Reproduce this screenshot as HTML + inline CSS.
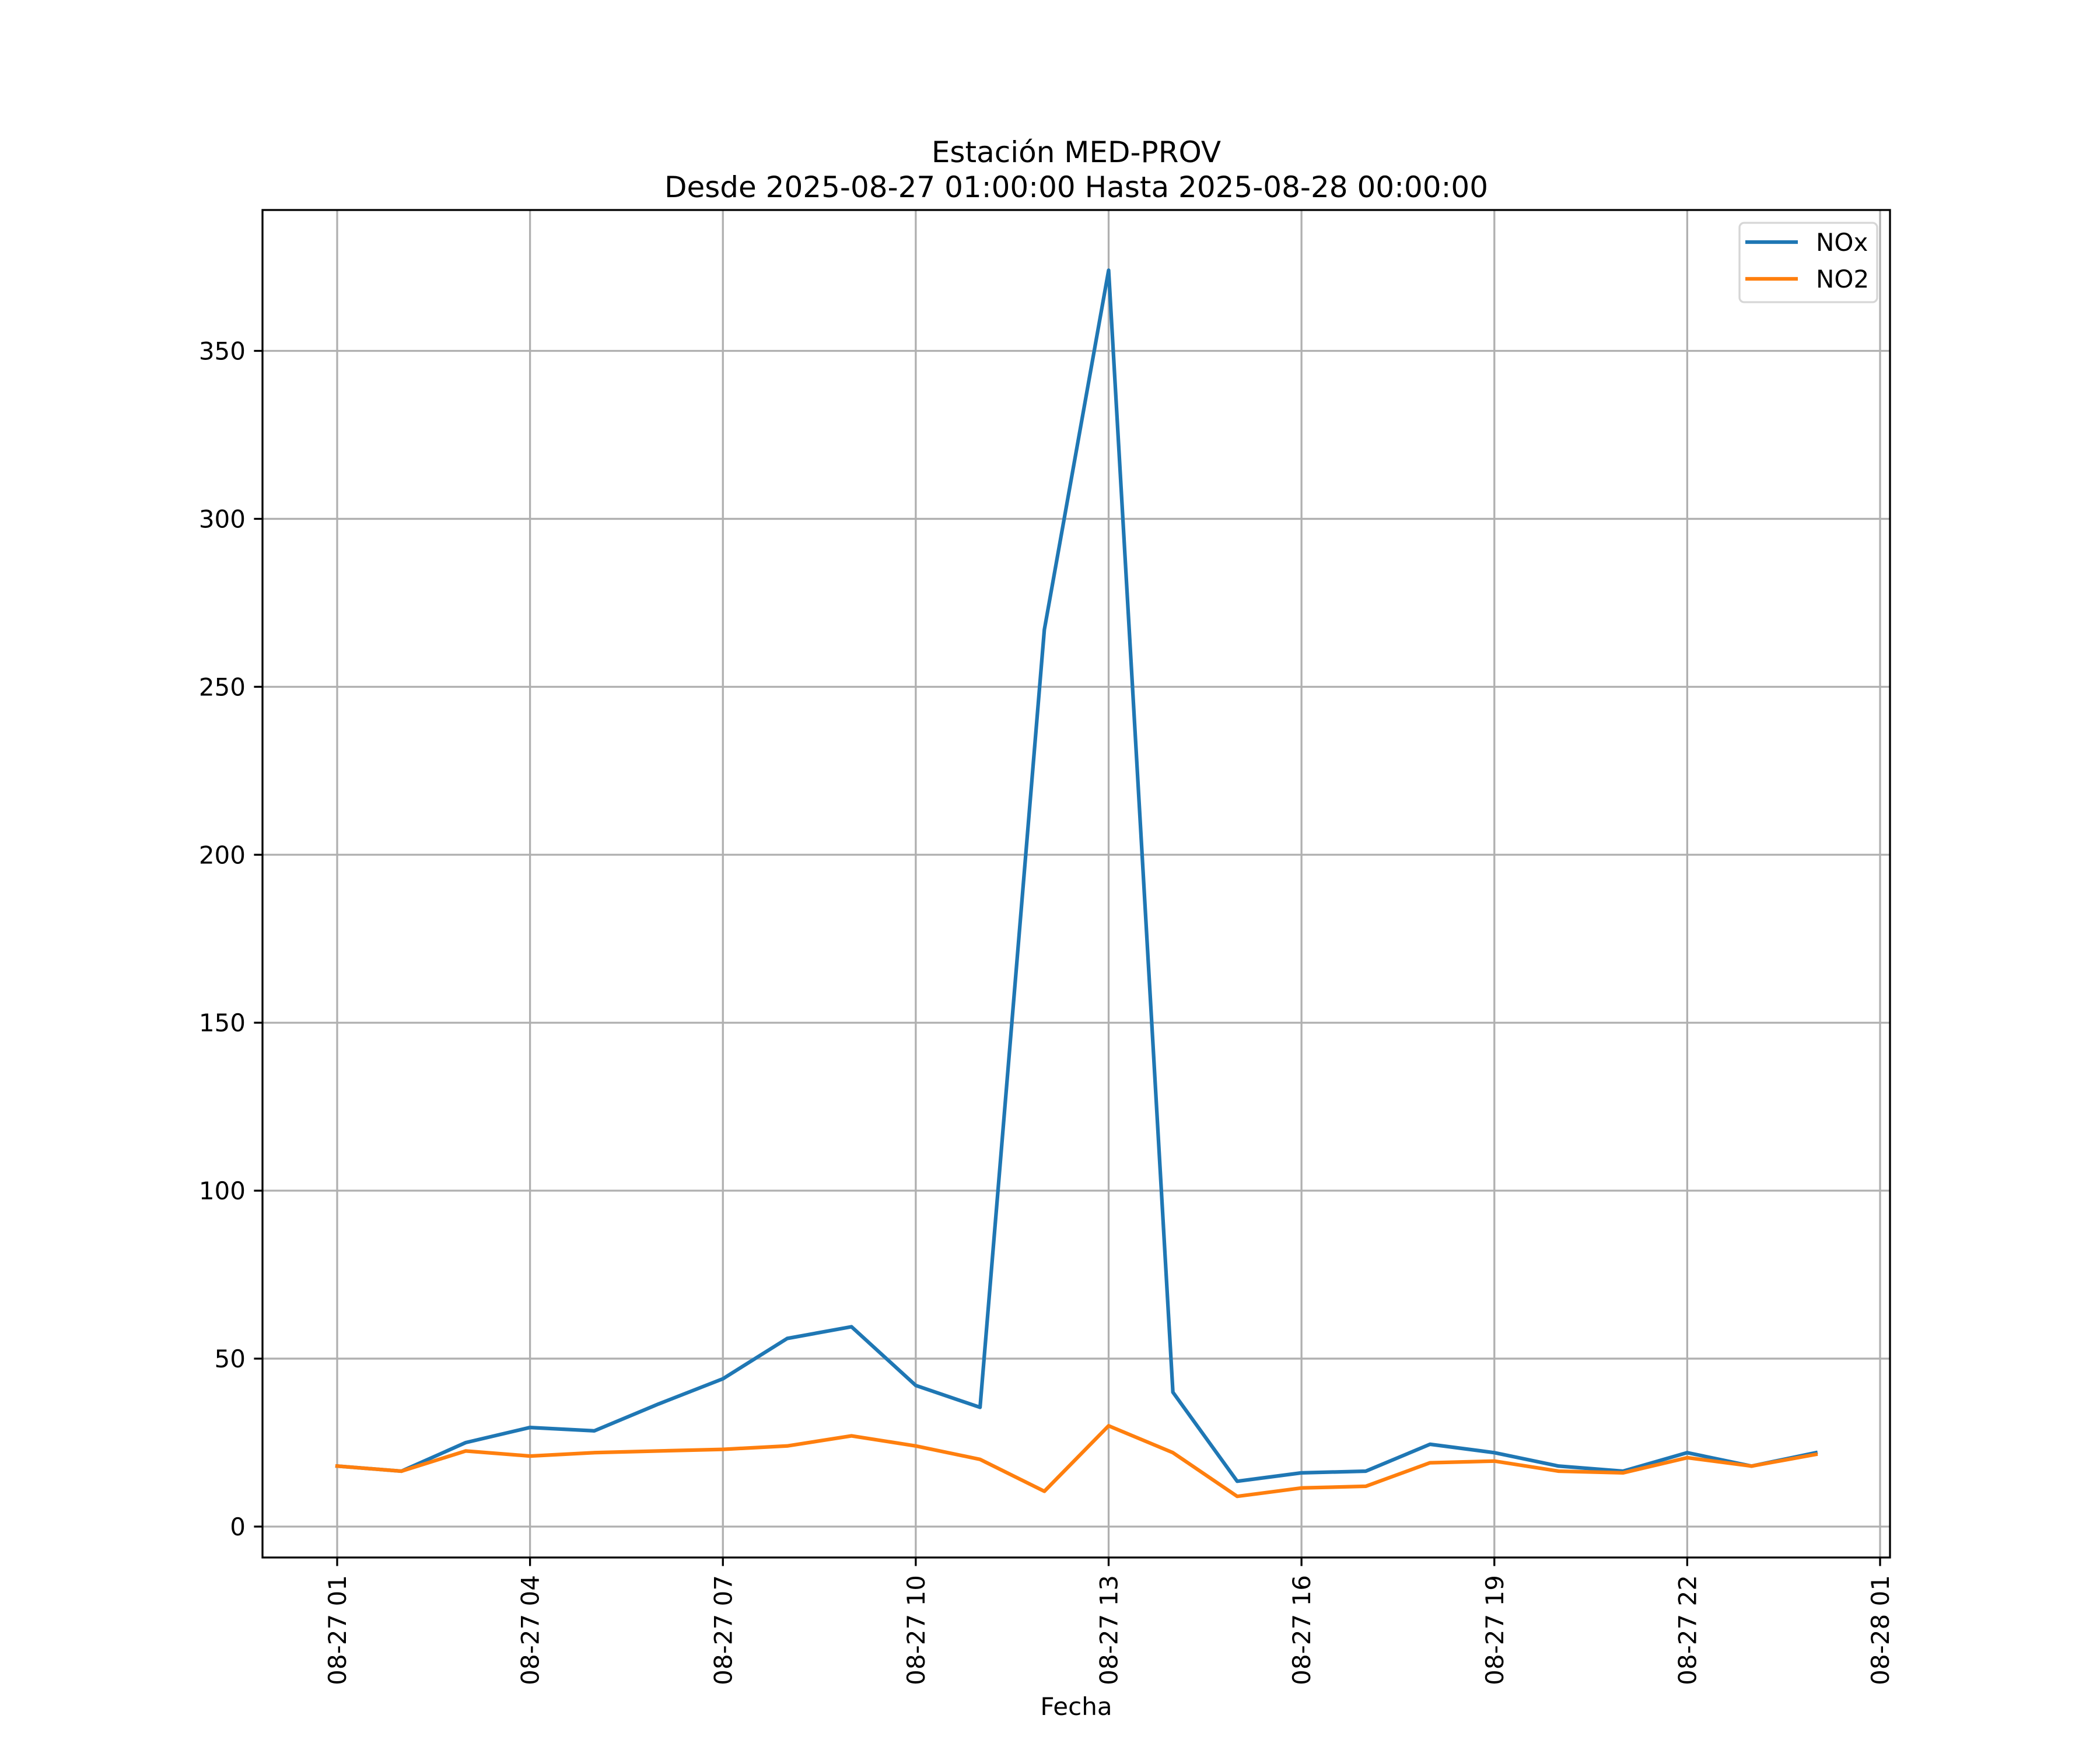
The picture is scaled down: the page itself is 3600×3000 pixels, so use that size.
<!DOCTYPE html>
<html><head><meta charset="utf-8"><style>
html,body{margin:0;padding:0;background:#fff;}
svg{display:block;font-family:"DejaVu Sans","Liberation Sans",sans-serif;}
</style></head><body>
<svg id="chart" width="3600" height="3000" viewBox="0 0 3600 3000" xmlns="http://www.w3.org/2000/svg">
<rect width="3600" height="3000" fill="#fff"/>
<text x="1845" y="278" font-size="50" text-anchor="middle">Estación MED-PROV</text>
<text x="1845" y="338" font-size="50" text-anchor="middle">Desde 2025-08-27 01:00:00 Hasta 2025-08-28 00:00:00</text>
<g id="grid"></g>
<g id="series"></g>
<rect x="450" y="360" width="2790" height="2310" fill="none" stroke="#000" stroke-width="3.3"/>
<g id="ticks"></g>
<text x="1845" y="2940" font-size="42" text-anchor="middle">Fecha</text>
<g>
<rect x="2982" y="382" width="236" height="136" rx="8" fill="#fff" fill-opacity="0.8" stroke="#d6d6d6" stroke-width="3.3"/>
<line x1="2992" y1="415" x2="3082" y2="415" stroke="#1f77b4" stroke-width="6.25"/>
<text x="3113" y="430" font-size="42">NOx</text>
<line x1="2992" y1="478" x2="3082" y2="478" stroke="#ff7f0e" stroke-width="6.25"/>
<text x="3113" y="493" font-size="42">NO2</text>
</g>
</svg>
<script>
const hours = [1,2,3,4,5,6,7,8,9,10,11,12,13,14,15,16,17,18,19,20,21,22,23,24];
const noxValues = [18,16.5,25,29.5,28.5,36.5,44,56,59.5,42,35.5,267,374,40,13.5,16,16.5,24.5,22,18,16.5,22,18,22];
const no2Values = [18,16.5,22.5,21,22,22.5,23,24,27,24,20,10.5,30,22,9,11.5,12,19,19.5,16.5,16,20.5,18,21.5];
const xTickHours = [1,4,7,10,13,16,19,22,25];
const xTickLabels = ["08-27 01","08-27 04","08-27 07","08-27 10","08-27 13","08-27 16","08-27 19","08-27 22","08-28 01"];
const yTicks = [0,50,100,150,200,250,300,350];

const NS="http://www.w3.org/2000/svg";
const X0=578, X1=3223;
function xs(h){return X0+(h-1)*(X1-X0)/24;}
const Y0=2617, Y350=601.5;
function ys(v){return Y0+v*(Y350-Y0)/350;}
function mk(t,a,p){const e=document.createElementNS(NS,t);for(const k in a)e.setAttribute(k,a[k]);p.appendChild(e);return e;}
const grid=document.getElementById('grid'), ticks=document.getElementById('ticks'), series=document.getElementById('series');
xTickHours.forEach((h,i)=>{
  const x=xs(h);
  const g=mk('line',{x1:x,y1:360,x2:x,y2:2670,stroke:'#b0b0b0','stroke-width':3.3},grid);
  
  
  const t=mk('line',{x1:x,y1:2670,x2:x,y2:2684.6,stroke:'#000','stroke-width':3.3},ticks);
  
  
  const l=mk('text',{x:0,y:0,'font-size':42,'text-anchor':'end',transform:`translate(${x+15},2700) rotate(-90)`},ticks);
  l.textContent=xTickLabels[i];
  
  
});
yTicks.forEach(v=>{
  const y=ys(v);
  const g=mk('line',{x1:450,y1:y,x2:3240,y2:y,stroke:'#b0b0b0','stroke-width':3.3},grid);
  
  
  const t=mk('line',{x1:435.4,y1:y,x2:450,y2:y,stroke:'#000','stroke-width':3.3},ticks);
  
  
  const l=mk('text',{x:421,y:y+15,'font-size':42,'text-anchor':'end'},ticks);
  l.textContent=String(v);
  
  
});
function line(vals,color,name){
  const pts=vals.map((v,i)=>xs(hours[i]).toFixed(1)+','+ys(v).toFixed(1)).join(' ');
  const p=mk('polyline',{points:pts,fill:'none',stroke:color,'stroke-width':6.25,'stroke-linejoin':'round','stroke-linecap':'square'},series);
  
  
}
line(noxValues,'#1f77b4','nox-line');
line(no2Values,'#ff7f0e','no2-line');
</script>
</body></html>
